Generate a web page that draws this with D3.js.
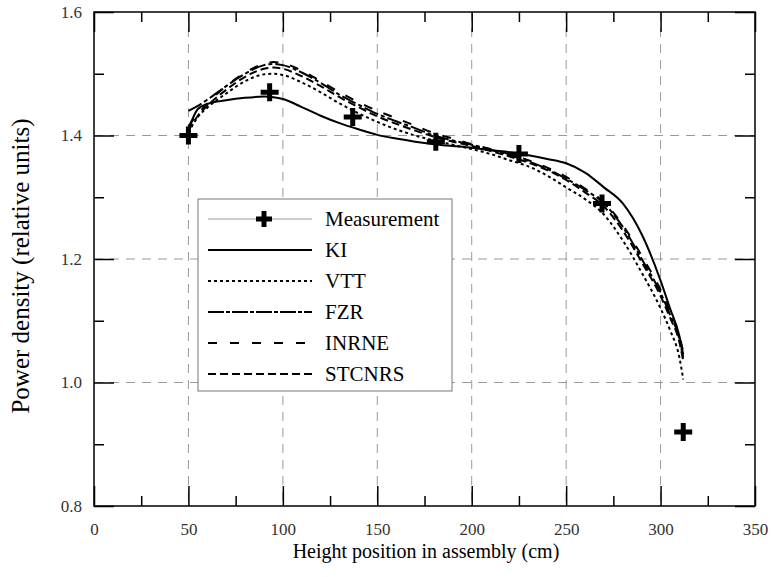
<!DOCTYPE html>
<html><head><meta charset="utf-8">
<script src="https://cdn.jsdelivr.net/npm/d3@7/dist/d3.min.js"></script>
<style>body{margin:0;background:#fff}svg{display:block}</style>
</head><body>
<script>
const xTicks=[0,50,100,150,200,250,300,350];
const yTicks=[0.8,1.0,1.2,1.4,1.6];
const heights=[50,55,60,70,80,90,95,100,110,120,130,140,150,160,170,180,190,200,210,220,230,240,250,260,270,280,290,300,305,310,312];
const KI=[1.410,1.443,1.451,1.457,1.461,1.463,1.462,1.459,1.446,1.432,1.420,1.410,1.401,1.395,1.390,1.386,1.383,1.380,1.376,1.373,1.368,1.362,1.355,1.340,1.316,1.290,1.240,1.165,1.120,1.075,1.045];
const VTT=[1.405,1.430,1.445,1.468,1.488,1.499,1.500,1.498,1.486,1.470,1.452,1.436,1.422,1.410,1.400,1.392,1.385,1.378,1.370,1.360,1.350,1.335,1.316,1.297,1.272,1.230,1.178,1.120,1.085,1.040,1.005];
const FZR=[1.440,1.448,1.458,1.480,1.500,1.514,1.516,1.514,1.502,1.485,1.466,1.450,1.435,1.423,1.412,1.400,1.392,1.385,1.377,1.368,1.358,1.346,1.330,1.312,1.290,1.252,1.200,1.145,1.110,1.070,1.040];
const INRNE=[1.415,1.435,1.452,1.480,1.502,1.516,1.519,1.517,1.505,1.488,1.470,1.454,1.440,1.428,1.416,1.404,1.395,1.386,1.378,1.370,1.360,1.348,1.333,1.314,1.292,1.255,1.205,1.150,1.115,1.075,1.050];
const STCNRS=[1.408,1.432,1.448,1.474,1.495,1.508,1.510,1.508,1.496,1.480,1.462,1.446,1.431,1.419,1.408,1.398,1.390,1.383,1.375,1.366,1.356,1.344,1.328,1.308,1.285,1.246,1.195,1.140,1.105,1.065,1.035];
const measX=[50,93,137,181,225,269,312];
const measY=[1.40,1.47,1.43,1.39,1.37,1.29,0.92];
const seriesNames=["KI","VTT","FZR","INRNE","STCNRS"];
const seriesData=[KI,VTT,FZR,INRNE,STCNRS];
const dashes=["none","3,3","15,3,4,3","9,12","8,4"];
const legendDashes=["none","3,3","16,2,4,2","9,13","8,4"];

const W=773,H=577;
const svg=d3.select("body").append("svg").attr("width",W).attr("height",H);
const x=d3.scaleLinear().domain([0,350]).range([94,755]);
const y=d3.scaleLinear().domain([0.8,1.6]).range([506,12]);
const font="Liberation Serif";

// grid
const gridX=[50,100,150,200,250,300], gridY=[1.0,1.2,1.4];
svg.append("g").selectAll("line").data(gridX).join("line")
 .attr("x1",d=>x(d)).attr("x2",d=>x(d)).attr("y1",y(1.6)).attr("y2",y(0.8))
 .attr("stroke","#999").attr("stroke-width",1).attr("stroke-dasharray","9,7");
svg.append("g").selectAll("line").data(gridY).join("line")
 .attr("x1",x(0)).attr("x2",x(350)).attr("y1",d=>y(d)).attr("y2",d=>y(d))
 .attr("stroke","#999").attr("stroke-width",1).attr("stroke-dasharray","9,7");

function styleAxis(g){g.attr("font-family",font).attr("font-size",17);g.select(".domain").remove();g.selectAll("line").attr("stroke","#000").attr("stroke-width",1.5);g.selectAll("text").attr("font-family",font).attr("font-size",17).attr("fill","#333");}
const xMinor=d3.range(25,350,50), yMinor=[0.9,1.1,1.3,1.5];
svg.append("g").attr("transform",`translate(0,${y(0.8)})`).call(d3.axisBottom(x).tickValues(xTicks).tickSize(-20).tickPadding(14).tickFormat(d3.format("d"))).call(styleAxis)
 .call(g=>g.selectAll("text").attr("dy","0.9em"));
svg.append("g").attr("transform",`translate(0,${y(0.8)})`).call(d3.axisBottom(x).tickValues(xMinor).tickSize(-10).tickFormat("")).call(styleAxis);
svg.append("g").attr("transform",`translate(0,${y(1.6)})`).call(d3.axisTop(x).tickValues(xTicks).tickSize(-20).tickFormat("")).call(styleAxis);
svg.append("g").attr("transform",`translate(0,${y(1.6)})`).call(d3.axisTop(x).tickValues(xMinor).tickSize(-10).tickFormat("")).call(styleAxis);
svg.append("g").attr("transform",`translate(${x(0)},0)`).call(d3.axisLeft(y).tickValues(yTicks).tickSize(-20).tickPadding(12).tickFormat(d3.format(".1f"))).call(styleAxis);
svg.append("g").attr("transform",`translate(${x(0)},0)`).call(d3.axisLeft(y).tickValues(yMinor).tickSize(-10).tickFormat("")).call(styleAxis);
svg.append("g").attr("transform",`translate(${x(350)},0)`).call(d3.axisRight(y).tickValues(yTicks).tickSize(-20).tickFormat("")).call(styleAxis);
svg.append("g").attr("transform",`translate(${x(350)},0)`).call(d3.axisRight(y).tickValues(yMinor).tickSize(-10).tickFormat("")).call(styleAxis);
svg.append("rect").attr("x",x(0)).attr("y",y(1.6)).attr("width",x(350)-x(0)).attr("height",y(0.8)-y(1.6))
 .attr("fill","none").attr("stroke","#000").attr("stroke-width",1.5);

// curves
const line=d3.line().x((d,i)=>x(heights[i])).y(d=>y(d)).curve(d3.curveMonotoneX);
seriesData.forEach((s,k)=>{
 svg.append("path").datum(s).attr("d",line).attr("fill","none").attr("stroke","#000").attr("stroke-width",2)
  .attr("stroke-dasharray",dashes[k]);
});

function cross(g,cx,cy,s){
 g.append("path").attr("d",`M${cx-s},${cy}H${cx+s}M${cx},${cy-s}V${cy+s}`).attr("stroke","#000").attr("stroke-width",5).attr("fill","none");
}
const mg=svg.append("g");
measX.forEach((mx,i)=>cross(mg,x(mx),y(measY[i]),9));

// legend
const lg=svg.append("g");
lg.append("rect").attr("x",198).attr("y",199).attr("width",254).attr("height",192).attr("fill","#fff").attr("stroke","#777").attr("stroke-width",1);
const ly0=219, ldy=31;
lg.append("line").attr("x1",208).attr("x2",312).attr("y1",ly0).attr("y2",ly0).attr("stroke","#999").attr("stroke-width",1);
cross(lg,264,ly0,8);
lg.append("text").attr("x",325).attr("y",ly0).attr("dy","0.35em").attr("font-family",font).attr("font-size",21).text("Measurement");
seriesNames.forEach((n,k)=>{
 const yy=ly0+ldy*(k+1);
 lg.append("line").attr("x1",208).attr("x2",312).attr("y1",yy).attr("y2",yy).attr("stroke","#000").attr("stroke-width",2).attr("stroke-dasharray",legendDashes[k]);
 lg.append("text").attr("x",325).attr("y",yy).attr("dy","0.35em").attr("font-family",font).attr("font-size",21).text(n);
});

svg.append("text").attr("x",426).attr("y",558).attr("text-anchor","middle").attr("font-family",font).attr("font-size",20).text("Height position in assembly (cm)");
svg.append("text").attr("transform",`translate(29,266) rotate(-90)`).attr("text-anchor","middle").attr("font-family",font).attr("font-size",25).text("Power density (relative units)");
</script>
</body></html>
